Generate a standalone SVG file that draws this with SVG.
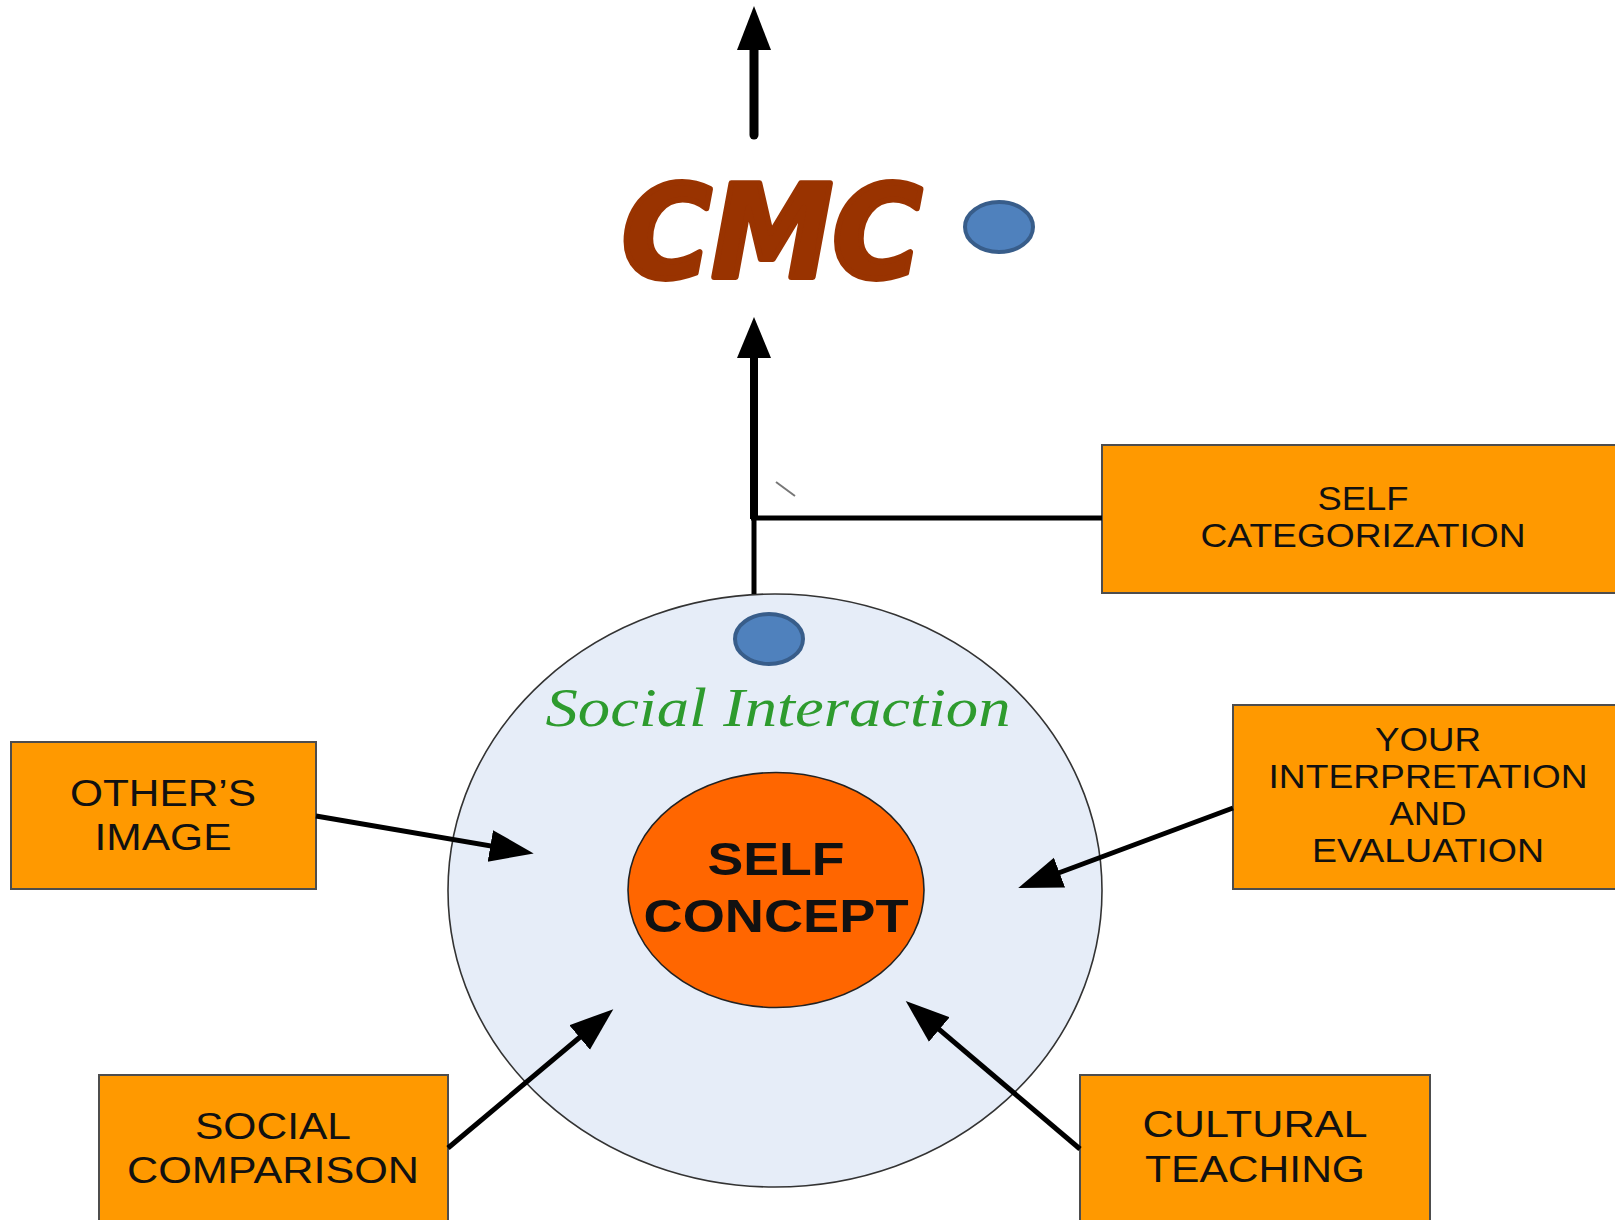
<svg xmlns="http://www.w3.org/2000/svg" width="1615" height="1220" viewBox="0 0 1615 1220">
<style>
.box{fill:#FF9900;stroke:#4d4d4d;stroke-width:2}
.bt{font-family:"Liberation Sans",Arial,sans-serif;fill:#111;text-anchor:middle}
.s33{font-size:33px}
.s37{font-size:37px}
.con{stroke:#000;stroke-width:5;fill:none}
.dot{fill:#4F81BD;stroke:#385D8A;stroke-width:4}
</style>
<defs>
<marker id="ah" markerUnits="userSpaceOnUse" markerWidth="46" markerHeight="36" refX="24" refY="16" orient="auto" viewBox="0 0 46 32">
<path d="M0,0 L44,16 L0,32 z" fill="#000"/>
</marker>
</defs>
<rect width="1615" height="1220" fill="#fff"/>

<g id="social-interaction">
<ellipse cx="775" cy="890.5" rx="327" ry="296.5" fill="#E6EDF8" stroke="#333" stroke-width="1.6"/>
<text x="778" y="726" font-family="'Liberation Serif',serif" font-style="italic" font-size="54" fill="#2E9B2E" text-anchor="middle" textLength="465" lengthAdjust="spacingAndGlyphs">Social Interaction</text>
</g>

<g id="self-concept">
<ellipse cx="776" cy="890" rx="148" ry="117.5" fill="#FF6600" stroke="#222" stroke-width="1.6"/>
<text class="bt" x="776" y="875" font-size="46" font-weight="bold" textLength="137" lengthAdjust="spacingAndGlyphs">SELF</text>
<text class="bt" x="776" y="932" font-size="46" font-weight="bold" textLength="265" lengthAdjust="spacingAndGlyphs">CONCEPT</text>
</g>

<g id="cmc">
<text x="772" y="277" font-family="'DejaVu Sans',sans-serif" font-weight="bold" font-style="italic" font-size="128" fill="#993300" stroke="#993300" stroke-width="6" stroke-linejoin="round" text-anchor="middle" textLength="300" lengthAdjust="spacingAndGlyphs">CMC</text>
</g>

<g id="dot-cmc"><ellipse class="dot" cx="999" cy="227" rx="34" ry="25"/></g>
<g id="dot-social"><ellipse class="dot" cx="769" cy="639" rx="34" ry="25"/></g>

<g id="self-categorization">
<rect class="box" x="1102" y="445" width="540" height="148"/>
<text class="bt s33" x="1363" y="510" textLength="91" lengthAdjust="spacingAndGlyphs">SELF</text>
<text class="bt s33" x="1363" y="547" textLength="325" lengthAdjust="spacingAndGlyphs">CATEGORIZATION</text>
</g>

<g id="your-interpretation">
<rect class="box" x="1233" y="705" width="420" height="184"/>
<text class="bt s33" x="1428" y="751" textLength="106" lengthAdjust="spacingAndGlyphs">YOUR</text>
<text class="bt s33" x="1428" y="788" textLength="319" lengthAdjust="spacingAndGlyphs">INTERPRETATION</text>
<text class="bt s33" x="1428" y="825" textLength="77" lengthAdjust="spacingAndGlyphs">AND</text>
<text class="bt s33" x="1428" y="862" textLength="232" lengthAdjust="spacingAndGlyphs">EVALUATION</text>
</g>

<g id="others-image">
<rect class="box" x="11" y="742" width="305" height="147"/>
<text class="bt s37" x="163" y="806" textLength="186" lengthAdjust="spacingAndGlyphs">OTHER’S</text>
<text class="bt s37" x="163" y="850" textLength="137" lengthAdjust="spacingAndGlyphs">IMAGE</text>
</g>

<g id="social-comparison">
<rect class="box" x="99" y="1075" width="349" height="170"/>
<text class="bt s37" x="273" y="1139" textLength="156" lengthAdjust="spacingAndGlyphs">SOCIAL</text>
<text class="bt s37" x="273" y="1183" textLength="292" lengthAdjust="spacingAndGlyphs">COMPARISON</text>
</g>

<g id="cultural-teaching">
<rect class="box" x="1080" y="1075" width="350" height="170"/>
<text class="bt s37" x="1255" y="1137" textLength="225" lengthAdjust="spacingAndGlyphs">CULTURAL</text>
<text class="bt s37" x="1255" y="1182" textLength="220" lengthAdjust="spacingAndGlyphs">TEACHING</text>
</g>

<g id="connectors">
<line x1="754" y1="46" x2="754" y2="135" stroke="#000" stroke-width="9" stroke-linecap="round"/>
<polygon points="754,6 771,50 737,50" fill="#000"/>
<line x1="754" y1="354" x2="754" y2="519" stroke="#000" stroke-width="8"/>
<polygon points="754,317 771,358 737,358" fill="#000"/>
<line x1="754" y1="515" x2="754" y2="594" stroke="#000" stroke-width="5"/>
<line x1="751" y1="518" x2="1102" y2="518" class="con"/>
<line x1="776" y1="482" x2="795" y2="496" stroke="#777" stroke-width="2"/>
<line x1="316" y1="816" x2="514" y2="850" class="con" marker-end="url(#ah)"/>
<line x1="1233" y1="808" x2="1037" y2="881" class="con" marker-end="url(#ah)"/>
<line x1="448" y1="1148" x2="598" y2="1022" class="con" marker-end="url(#ah)"/>
<line x1="1080" y1="1149" x2="921" y2="1014" class="con" marker-end="url(#ah)"/>
</g>
</svg>
